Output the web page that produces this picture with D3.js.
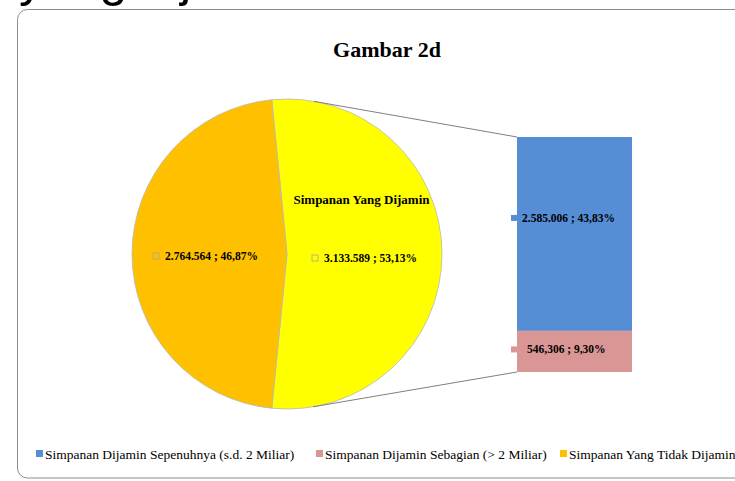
<!DOCTYPE html>
<html>
<head>
<meta charset="utf-8">
<script src="https://cdn.jsdelivr.net/npm/d3@7"></script>
<style>
html,body{margin:0;padding:0;background:#fff;overflow:hidden;}
svg{display:block;}
</style>
</head>
<body>
<svg id="chart" width="735" height="481"></svg>
<script>
// ---- data ----
const title = "Gambar 2d";
const pieCategories = ["Simpanan Yang Dijamin", "Simpanan Yang Tidak Dijamin"];
const pieValues = [3133589, 2764564];
const pieLabels = ["3.133.589 ; 53,13%", "2.764.564 ; 46,87%"];
const barCategories = ["Simpanan Dijamin Sepenuhnya (s.d. 2 Miliar)", "Simpanan Dijamin Sebagian (> 2 Miliar)"];
const barPercents = [43.83, 9.30];
const barLabels = ["2.585.006 ; 43,83%", "546,306 ; 9,30%"];
const legendItems = ["Simpanan Dijamin Sepenuhnya (s.d. 2 Miliar)", "Simpanan Dijamin Sebagian (> 2 Miliar)", "Simpanan Yang Tidak Dijamin"];

// ---- styles ----
const colors = {blue:"#558ED5", pink:"#D99694", orange:"#FFC000", yellow:"#FFFF00"};
const pieColors = [colors.yellow, colors.orange];
const barColors = [colors.blue, colors.pink];
const legendColors = [colors.blue, colors.pink, colors.orange];
const serif = "'Liberation Serif', 'Times New Roman', serif";

const svg = d3.select("#chart");

// cut-off heading text above the chart frame
svg.append("text").attr("x", 19).attr("y", -4)
  .attr("font-family", "'Liberation Sans', Arial, sans-serif").attr("font-size", 50)
  .attr("fill", "#000").text("yang dijamin");

// frame
svg.append("rect").attr("x", 17.5).attr("y", 9.5).attr("width", 760).attr("height", 468.5)
  .attr("rx", 10).attr("ry", 10).attr("fill", "#fff").attr("stroke", "#8c8c8c").attr("stroke-width", 1);

// title
svg.append("text").attr("x", 387).attr("y", 57).attr("text-anchor", "middle")
  .attr("font-family", serif).attr("font-weight", "bold").attr("font-size", 22)
  .attr("fill", "#000").text(title);

// ---- pie ----
const cx = 287, cy = 254, r = 155;
const startOffset = -(0.5313 - 0.5) * Math.PI; // first slice angle
const pie = d3.pie().sort(null).startAngle(startOffset).endAngle(startOffset + 2 * Math.PI);
const arcs = pie(pieValues);
const arc = d3.arc().innerRadius(0).outerRadius(r);
const g = svg.append("g").attr("transform", `translate(${cx},${cy})`);
g.selectAll("path.slice").data(arcs).join("path").attr("class", "slice")
  .attr("d", arc).attr("fill", (d, i) => pieColors[i])
  .attr("stroke", "#b8b8b8").attr("stroke-width", 0.8);

// ---- bar (stacked) ----
const barX = 517, barW = 115;
const y = d3.scaleLinear().domain([0, d3.sum(barPercents)]).range([372, 137]);
const stackTop = [];
let acc = d3.sum(barPercents);
barPercents.forEach((v, i) => { stackTop.push({top: acc, bottom: acc - v, i}); acc -= v; });
svg.selectAll("rect.bar").data(stackTop).join("rect").attr("class", "bar")
  .attr("x", barX).attr("width", barW)
  .attr("y", d => y(d.top)).attr("height", d => y(d.bottom) - y(d.top))
  .attr("fill", d => barColors[d.i]);

// connector lines: tangent from bar corners to pie
function tangentPoint(px, py, side) {
  const dx = px - cx, dy = py - cy;
  const d = Math.hypot(dx, dy);
  const base = Math.atan2(dy, dx);
  const a = Math.acos(r / d);
  const ang = base + side * a;
  return [cx + r * Math.cos(ang), cy + r * Math.sin(ang)];
}
const topCorner = [barX, y(d3.sum(barPercents))];
const botCorner = [barX, y(0)];
const t1 = tangentPoint(topCorner[0], topCorner[1], -1);
const t2 = tangentPoint(botCorner[0], botCorner[1], 1);
svg.append("line").attr("x1", t1[0]).attr("y1", t1[1]).attr("x2", topCorner[0]).attr("y2", topCorner[1])
  .attr("stroke", "#7f7f7f").attr("stroke-width", 1);
svg.append("line").attr("x1", t2[0]).attr("y1", t2[1]).attr("x2", botCorner[0]).attr("y2", botCorner[1])
  .attr("stroke", "#7f7f7f").attr("stroke-width", 1);

// ---- pie labels ----
const labelArc = d3.arc().innerRadius(0).outerRadius(r * 1.0);
const c0 = labelArc.centroid(arcs[0]);
svg.append("text").attr("x", cx + c0[0] - 3).attr("y", cy + c0[1] - 50)
  .attr("text-anchor", "middle").attr("font-family", serif).attr("font-weight", "bold")
  .attr("font-size", 13).attr("fill", "#000").text(pieCategories[0]);

const pieLabelOffsets = [[0, 8], [-4, 6]];
arcs.forEach((a, i) => {
  const c = labelArc.centroid(a);
  const lx = cx + c[0] + pieLabelOffsets[i][0];
  const ly = cy + c[1] + pieLabelOffsets[i][1];
  const grp = svg.append("g").attr("transform", `translate(${lx},${ly})`);
  const t = grp.append("text").attr("x", 0).attr("y", 0).attr("text-anchor", "middle")
    .attr("font-family", serif).attr("font-weight", "bold").attr("font-size", 11.5)
    .attr("fill", "#000").text(pieLabels[i]);
  const w = t.node().getComputedTextLength();
  const tx = 6;
  t.attr("x", tx);
  grp.append("rect").attr("x", tx - w / 2 - 12).attr("y", -7).attr("width", 6).attr("height", 6)
    .attr("fill", pieColors[i]).attr("stroke", "#a6a6a6").attr("stroke-width", 0.8);
});

// ---- bar labels ----
const barLabelOffsets = [-16, -2];
stackTop.forEach((d, i) => {
  const ly = (y(d.top) + y(d.bottom)) / 2 + barLabelOffsets[i] + 4;
  svg.append("rect").attr("x", 511).attr("y", ly - 7).attr("width", 6).attr("height", 6)
    .attr("fill", barColors[i]);
  svg.append("text").attr("x", i === 0 ? 522 : 527).attr("y", ly)
    .attr("font-family", serif).attr("font-weight", "bold").attr("font-size", 11.5)
    .attr("fill", "#000").text(barLabels[i]);
});

// ---- legend ----
const legendX = [36, 316, 560];
legendItems.forEach((name, i) => {
  svg.append("rect").attr("x", legendX[i]).attr("y", 450).attr("width", 7).attr("height", 7)
    .attr("fill", legendColors[i]);
  svg.append("text").attr("x", legendX[i] + 9).attr("y", 458.5)
    .attr("font-family", serif).attr("font-size", 13.5).attr("fill", "#000").text(name);
});
</script>
</body>
</html>
